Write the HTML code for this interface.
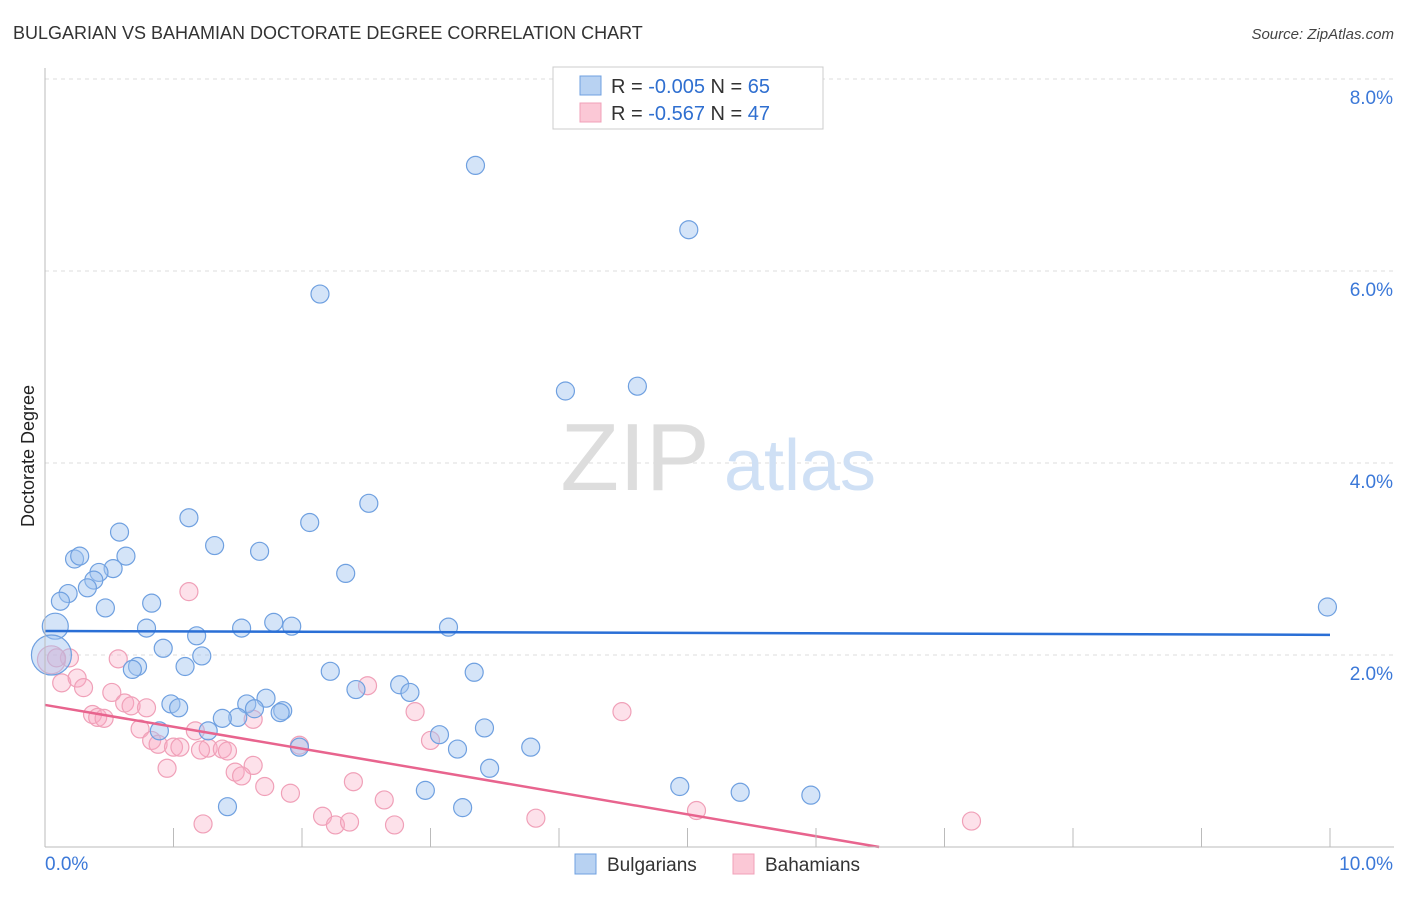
<!DOCTYPE html>
<html><head><meta charset="utf-8"><style>
body{margin:0;background:#fff;font-family:"Liberation Sans",sans-serif}
svg text{font-family:"Liberation Sans",sans-serif}
</style></head><body>
<svg id="chart" width="1406" height="892" viewBox="0 0 1406 892" xmlns="http://www.w3.org/2000/svg">
<text x="13" y="39" font-size="18" fill="#333">BULGARIAN VS BAHAMIAN DOCTORATE DEGREE CORRELATION CHART</text>
<text x="1394" y="39" font-size="15" font-style="italic" fill="#444" text-anchor="end">Source: ZipAtlas.com</text>
<text transform="translate(34,456) rotate(-90)" font-size="18" fill="#222" text-anchor="middle">Doctorate Degree</text>
<g id="grid"></g>
<g>
<text x="635" y="490" font-family="Liberation Serif,serif" font-size="96" fill="#ddd" text-anchor="middle">ZIP</text>
<text x="800" y="490" font-size="72" fill="#cfe0f5" text-anchor="middle">atlas</text>
</g>
<g id="pts"></g>
<g id="trends"></g>
<line x1="45" y1="847" x2="1394" y2="847" stroke="#bbb"/>
<line x1="45" y1="68" x2="45" y2="847" stroke="#bbb"/>
<g id="xt"></g>
<g>
<rect x="553" y="67" width="270" height="62" fill="#fff" stroke="#ccc"/>
<rect x="580" y="76" width="21" height="19" fill="#b8d2f2" stroke="#6fa0e0"/>
<rect x="580" y="103" width="21" height="19" fill="#fbc8d6" stroke="#f0a0b8"/>
<text x="611" y="93" font-size="20" fill="#333">R = <tspan fill="#2f6fd0">-0.005</tspan>   N = <tspan fill="#2f6fd0">65</tspan></text>
<text x="611" y="120" font-size="20" fill="#333">R =  <tspan fill="#2f6fd0">-0.567</tspan>   N = <tspan fill="#2f6fd0">47</tspan></text>
</g>
<g>
<rect x="575" y="854" width="21" height="20" fill="#b8d2f2" stroke="#6fa0e0"/>
<text x="607" y="871" font-size="19" fill="#333">Bulgarians</text>
<rect x="733" y="854" width="21" height="20" fill="#fbc8d6" stroke="#f0a0b8"/>
<text x="765" y="871" font-size="19" fill="#333">Bahamians</text>
</g>
</svg>
<script>
const yTicks=[2,4,6,8];
const xTickVals=[1,2,3,4,5,6,7,8,9,10];
const blueX=[3.35,5.01,2.14,4.05,4.61,2.52,1.12,2.06,0.58,1.32,1.67,0.23,0.27,0.63,2.34,0.53,0.42,0.38,0.33,0.18,0.12,0.83,0.47,9.98,0.08,0.79,1.18,1.53,1.78,1.92,3.14,0.92,1.22,1.09,0.72,0.68,2.22,3.34,2.42,2.76,2.84,1.72,0.98,1.04,1.57,1.63,1.85,1.83,1.50,1.38,1.27,0.89,3.42,3.07,3.21,1.98,3.78,3.46,4.94,5.41,5.96,2.96,1.42,3.25,0.05];
const blueY=[7.10,6.43,5.76,4.75,4.80,3.58,3.43,3.38,3.28,3.14,3.08,3.00,3.03,3.03,2.85,2.90,2.86,2.78,2.70,2.64,2.56,2.54,2.49,2.50,2.30,2.28,2.20,2.28,2.34,2.30,2.29,2.07,1.99,1.88,1.88,1.85,1.83,1.82,1.64,1.69,1.61,1.55,1.49,1.45,1.49,1.44,1.42,1.40,1.35,1.34,1.21,1.21,1.24,1.17,1.02,1.04,1.04,0.82,0.63,0.57,0.54,0.59,0.42,0.41,2.00];
const pinkX=[1.12,0.19,0.57,0.05,0.09,0.13,0.25,0.30,0.52,0.62,0.67,0.79,2.51,2.88,4.49,0.37,0.41,0.46,0.74,0.83,0.88,1.00,1.05,1.17,1.27,1.38,1.42,1.21,1.62,1.98,1.62,1.48,1.53,0.95,1.71,2.40,1.91,2.64,2.16,2.26,2.37,2.72,1.23,3.82,5.07,7.21,3.00];
const pinkY=[2.66,1.97,1.96,1.95,1.97,1.71,1.76,1.66,1.61,1.50,1.47,1.45,1.68,1.41,1.41,1.38,1.35,1.34,1.23,1.11,1.07,1.04,1.04,1.21,1.03,1.02,1.00,1.01,1.33,1.06,0.85,0.78,0.74,0.82,0.63,0.68,0.56,0.49,0.32,0.23,0.26,0.23,0.24,0.30,0.38,0.27,1.11];
const blueTrend=[2.25,2.21];
const pinkTrend=[1.48,-0.228];
const X=v=>45+v*128.5, Y=v=>847-v*96;
const NS="http://www.w3.org/2000/svg";
function mk(p,t,a){const e=document.createElementNS(NS,t);for(const k in a)e.setAttribute(k,a[k]);p.appendChild(e);return e;}
const grid=document.getElementById('grid');
yTicks.forEach(v=>{
 const l=mk(grid,'line',{x1:45,x2:1394,y1:Y(v),y2:Y(v),stroke:'#ddd','stroke-dasharray':'4,4'});
 
 
 const t=mk(grid,'text',{x:1393,y:Y(v)+25,'font-size':19,fill:'#3b78d8','text-anchor':'end'});
 t.textContent=v.toFixed(1)+'%';
 
 
});
const xt=document.getElementById('xt');
xTickVals.forEach(v=>{
 const l=mk(xt,'line',{x1:X(v),x2:X(v),y1:828,y2:847,stroke:'#bbb'});
 
 
});
const t0=mk(xt,'text',{x:45,y:870,'font-size':19,fill:'#3b78d8'});t0.textContent='0.0%';


const t1=mk(xt,'text',{x:1393,y:870,'font-size':19,fill:'#3b78d8','text-anchor':'end'});t1.textContent='10.0%';


const pts=document.getElementById('pts');
pinkX.forEach((x,i)=>{
 const c=mk(pts,'circle',{cx:X(x),cy:Y(pinkY[i]),r:i==3?14:9,fill:'rgba(248,170,195,0.35)',stroke:'#f0a0b8','stroke-width':1.2});
 
 
});
blueX.forEach((x,i)=>{
 const c=mk(pts,'circle',{cx:X(x),cy:Y(blueY[i]),r:i==64?20:(i==24?13:9),fill:'rgba(160,196,240,0.45)',stroke:'#6fa0e0','stroke-width':1.2});
 
 
});
const tr=document.getElementById('trends');
const bl=mk(tr,'line',{x1:X(0),y1:Y(blueTrend[0]),x2:X(10),y2:Y(blueTrend[1]),stroke:'#2a6fd6','stroke-width':2.5});


const xe=Math.min(10,-pinkTrend[0]/pinkTrend[1]);
const pl=mk(tr,'line',{x1:X(0),y1:Y(pinkTrend[0]),x2:X(xe),y2:Y(pinkTrend[0]+pinkTrend[1]*xe),stroke:'#e8648e','stroke-width':2.5});


</script>
</body></html>
